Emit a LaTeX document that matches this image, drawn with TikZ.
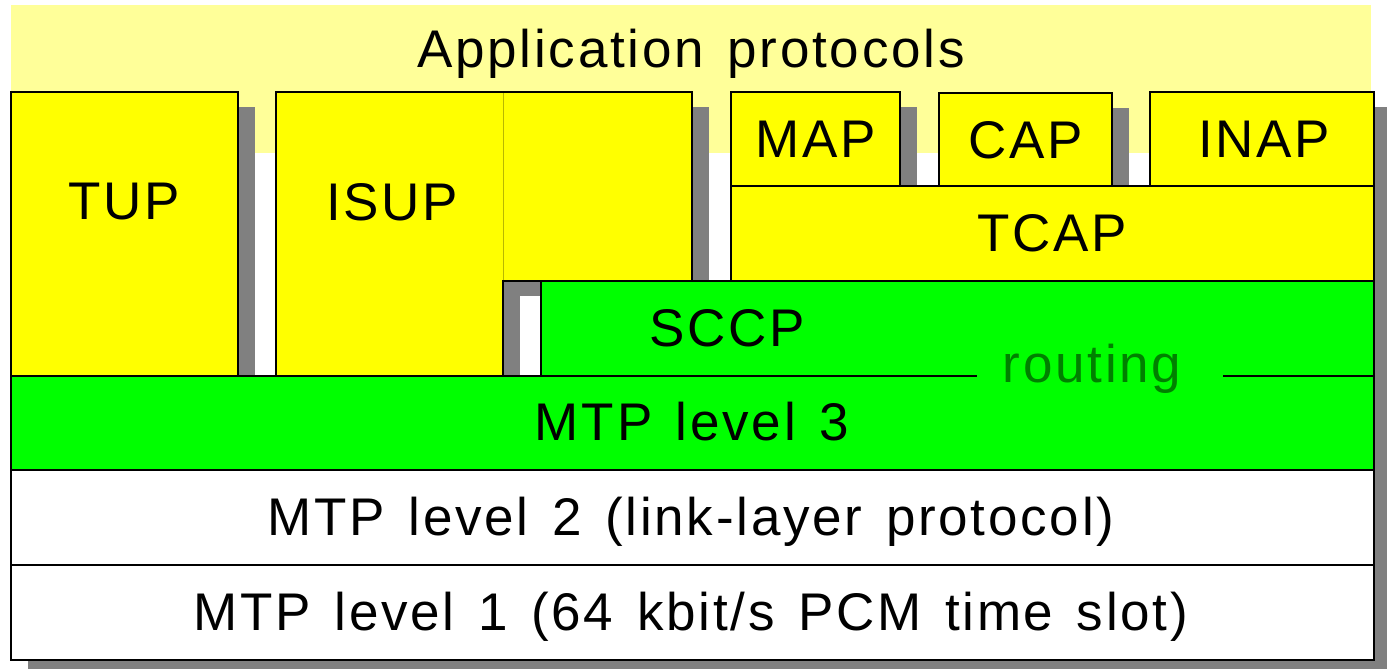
\documentclass[tikz,border=0pt]{standalone}
\usepackage{fontspec}
\setmainfont{Liberation Sans}[LetterSpace=5.2, WordSpace=1.35]
\usepackage{xcolor}
\definecolor{bandyellow}{HTML}{FFFF99}
\definecolor{sigyellow}{HTML}{FFFF00}
\definecolor{siggreen}{HTML}{00FF00}
\definecolor{shadowgray}{HTML}{808080}
\definecolor{routegreen}{HTML}{008000}
\definecolor{seamolive}{HTML}{B8B800}
\tikzset{
    edge/.style = {draw=black, line width=1.6pt},
    yellowbox/.style = {edge, fill=sigyellow},
    whitebox/.style = {edge, fill=white},
    lbl/.style = {font=\fontsize{53}{60}\selectfont, inner sep=0pt, anchor=base},
    routelbl/.style = {lbl, text=routegreen}
}
\begin{document}
\begin{tikzpicture}[x=1pt, y=-1pt]
\useasboundingbox (0,0) rectangle (1387,669);
\clip (0,0) rectangle (1387,669);
\fill[white] (0,0) rectangle (1387,669);
\fill[bandyellow] (11,5) rectangle (1371,153);

% drop shadows
\foreach \xa/\ya/\xb/\yb in {11/92/238/376, 276/92/503/376, 503/92/692/281, 731/92/900/186,
    939/93/1112/186, 1150/92/1374/186, 731/186/1374/281, 541/281/1374/376, 11/376/1374/660}
    \fill[shadowgray] (\xa+17,\ya+15) rectangle (\xb+17,\yb+15);

% user parts
\draw[yellowbox] (11,92) rectangle (238,376);
\draw[yellowbox] (276,92) -- (692,92) -- (692,281) -- (503,281) -- (503,376) -- (276,376) -- cycle;
\draw[seamolive, line width=0.8pt] (503,93) -- (503,280);
\draw[yellowbox] (731,92) rectangle (900,186);
\draw[yellowbox] (939,93) rectangle (1112,186);
\draw[yellowbox] (1150,92) rectangle (1374,186);
\draw[yellowbox] (731,186) rectangle (1374,281);

% SCCP and MTP
\fill[siggreen] (541,281) rectangle (1374,376);
\draw[edge] (541,376) -- (541,281) -- (1374,281) -- (1374,376);
\fill[siggreen] (11,376) rectangle (1374,470);
\draw[edge] (11,376) -- (11,470) -- (1374,470) -- (1374,376);
\draw[edge] (11,376) -- (977,376);
\draw[edge] (1223,376) -- (1374,376);
\draw[whitebox] (11,470) rectangle (1374,565);
\draw[whitebox] (11,565) rectangle (1374,660);

% labels
\node (app) [lbl] at (691,68) {Application protocols};
\node (tup) [lbl] at (124.5,219) {TUP};
\node (isup) [lbl] at (392,220) {ISUP};
\node (map) [lbl] at (816,157) {MAP};
\node (cap) [lbl] at (1026,158) {CAP};
\node (inap) [lbl] at (1264,157) {INAP};
\node (tcap) [lbl] at (1052,251) {TCAP};
\node (sccp) [lbl] at (727,346) {SCCP};
\node (routing) [routelbl] at (1092,382) {routing};
\node (mtpthree) [lbl] at (692,440) {MTP level 3};
\node (mtptwo) [lbl] at (691,535) {MTP level 2 (link-layer protocol)};
\node (mtpone) [lbl] at (691,630) {MTP level 1 (64 kbit/s PCM time slot)};
\end{tikzpicture}
\end{document}
